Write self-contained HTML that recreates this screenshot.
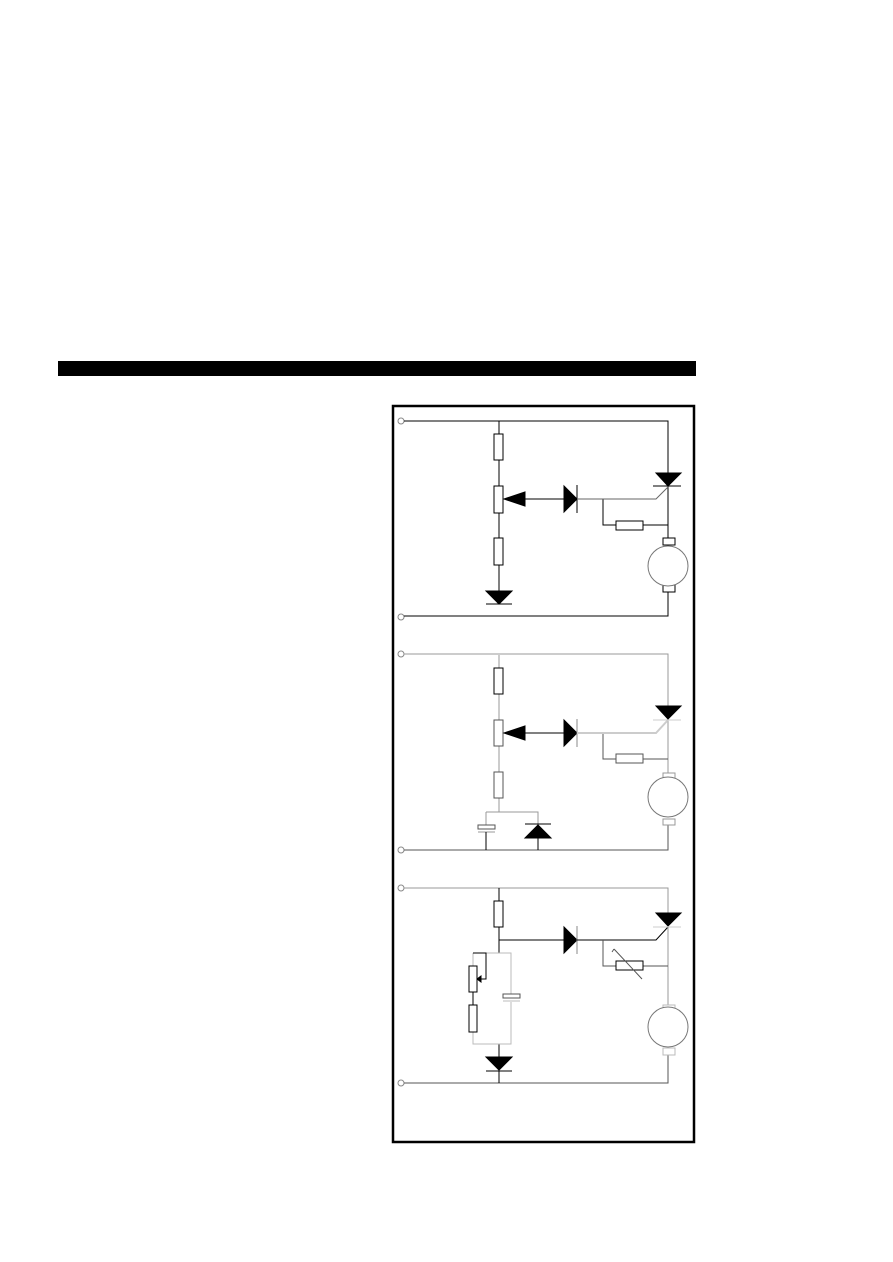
<!DOCTYPE html>
<html><head><meta charset="utf-8"><style>
html,body{margin:0;padding:0;background:#fff;}
svg{display:block;}
</style></head><body>
<svg width="893" height="1262" viewBox="0 0 893 1262" xmlns="http://www.w3.org/2000/svg" fill="none" stroke-width="1">
<rect x="58" y="361" width="638" height="15" fill="#000"/>
<rect x="393" y="406" width="301" height="736" stroke="#000" stroke-width="2.5"/>

<!-- Circuit 1 -->
<g stroke="#000">
<circle cx="401" cy="421" r="3" stroke="#888"/>
<circle cx="401" cy="617" r="3" stroke="#888"/>
<path d="M404 421H668V616H404M499 421V604M668 486V538M668 592V616M603 499V525H668"/>
<rect x="494" y="434" width="9" height="26" fill="#fff"/>
<rect x="494" y="486" width="9" height="27" fill="#fff"/>
<rect x="494" y="538" width="9" height="27" fill="#fff"/>
<path d="M504 499H564"/>
<polygon points="504,499 525,492 525,506" fill="#000"/>
<polygon points="564,486 577,499 564,512" fill="#000"/>
<path d="M577 485V513M486 604H512M653 486H681"/>
<polygon points="486,591 512,591 499,604" fill="#000"/>
<polygon points="656,473 681,473 668,486" fill="#000"/>
<path d="M577 499H656L668 487" stroke="#666"/>
<rect x="616" y="521" width="27" height="9" fill="#fff"/>
<rect x="663" y="538" width="12" height="7" fill="#fff"/>
<rect x="663" y="585" width="12" height="7" fill="#fff"/>
<circle cx="668" cy="566" r="20" fill="#fff" stroke="#777"/>
</g>

<!-- Circuit 2 -->
<g stroke="#000">
<circle cx="401" cy="654" r="3" stroke="#888"/>
<circle cx="401" cy="850" r="3" stroke="#888"/>
<path d="M404 654H668V706" stroke="#999"/>
<path d="M499 654V812" stroke="#ccc" stroke-width="2"/>
<path d="M486 812H538V825" stroke="#999"/>
<path d="M486 812V825" stroke="#999"/>
<path d="M404 850H668V825" stroke="#555"/>
<path d="M668 719V773" stroke="#999"/>
<path d="M603 733V759H668" stroke="#555"/>
<rect x="494" y="668" width="9" height="26" fill="#fff"/>
<rect x="494" y="720" width="9" height="26" fill="#fff" stroke="#555"/>
<rect x="494" y="772" width="9" height="26" fill="#fff" stroke="#555"/>
<path d="M504 733H564"/>
<polygon points="504,733 525,726 525,740" fill="#000"/>
<polygon points="564,720 577,733 564,746" fill="#000"/>
<path d="M577 719V747" stroke="#888"/>
<path d="M577 733H656L668 720" stroke="#ccc" stroke-width="2"/>
<polygon points="656,706 681,706 668,719" fill="#000"/>
<path d="M653 720H681" stroke="#ccc"/>
<rect x="616" y="754" width="27" height="9" fill="#fff" stroke="#555"/>
<rect x="663" y="773" width="12" height="6" fill="#fff" stroke="#999"/>
<rect x="663" y="819" width="12" height="6" fill="#fff" stroke="#999"/>
<circle cx="668" cy="797" r="20" fill="#fff" stroke="#777"/>
<rect x="478" y="825" width="17" height="4" fill="#fff" stroke="#555"/>
<path d="M478 832H495" stroke="#999"/>
<path d="M486 832V850"/>
<polygon points="538,825 525,838 551,838" fill="#000"/>
<path d="M525 824H551M538 838V850"/>
</g>

<!-- Circuit 3 -->
<g stroke="#000">
<circle cx="401" cy="888" r="3" stroke="#888"/>
<circle cx="401" cy="1083" r="3" stroke="#888"/>
<path d="M404 888H668V913" stroke="#999"/>
<path d="M404 1083H668V1055" stroke="#555"/>
<path d="M499 888V953M499 1044V1083"/>
<rect x="494" y="901" width="9" height="26" fill="#fff"/>
<path d="M499 940H564"/>
<polygon points="564,927 577,940 564,953" fill="#000"/>
<path d="M577 926V954" stroke="#888"/>
<path d="M577 940H656L668 927"/>
<polygon points="656,913 681,913 668,926" fill="#000"/>
<path d="M653 927H681" stroke="#ccc"/>
<path d="M668 926V1005" stroke="#999"/>
<path d="M603 940V966H668" stroke="#555"/>
<rect x="616" y="961" width="27" height="9" fill="#fff"/>
<path d="M614 949L642 979M614 949L612 952" stroke="#555"/>
<rect x="663" y="1005" width="12" height="7" fill="#fff" stroke="#bbb"/>
<rect x="663" y="1048" width="12" height="7" fill="#fff" stroke="#bbb"/>
<circle cx="668" cy="1027" r="20" fill="#fff" stroke="#777"/>
<path d="M473 953H511V995M511 1002V1044H473V953" stroke="#bbb"/>
<path d="M473 953H486V979H478" />
<polygon points="477,979 481,976 481,982" fill="#000"/>
<path d="M473 992V1005"/>
<rect x="469" y="966" width="8" height="26" fill="#fff"/>
<rect x="469" y="1005" width="8" height="27" fill="#fff"/>
<rect x="503" y="994" width="17" height="4" fill="#fff" stroke="#555"/>
<path d="M503 1001H520" stroke="#bbb"/>
<polygon points="486,1057 512,1057 499,1070" fill="#000"/>
<path d="M486 1071H512"/>
</g>
</svg>
</body></html>
